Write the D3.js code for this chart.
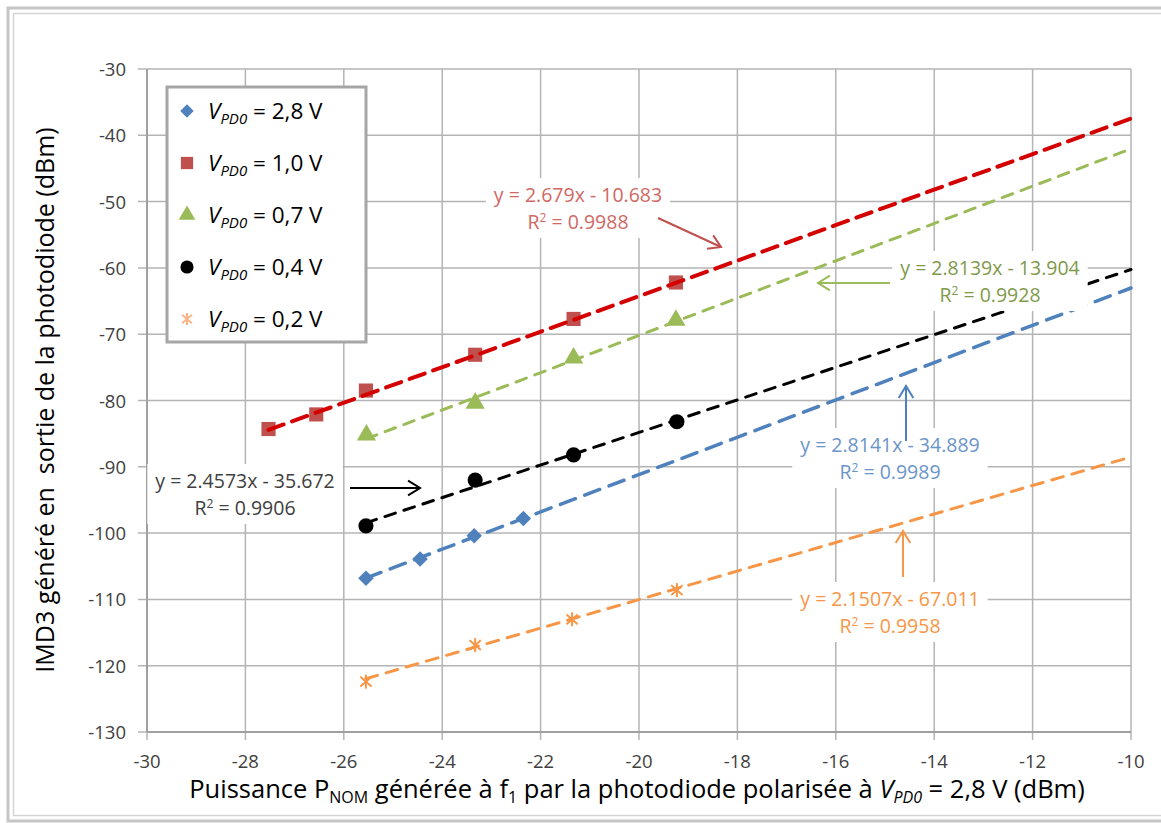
<!DOCTYPE html>
<html><head><meta charset="utf-8">
<script src="https://cdn.jsdelivr.net/npm/d3@7"></script>
<style>
body{margin:0;background:#fff;}
svg{display:block;font-family:"Open Sans","Liberation Sans",sans-serif;}
</style></head><body>
<svg id="c" width="1161" height="823"></svg>
<script>
// ---- data ----
const seriesNames = ["2,8 V","1,0 V","0,7 V","0,4 V","0,2 V"];
const xBlue  = [-25.55,-24.45,-23.35,-22.35];
const yBlue  = [-106.8,-103.9,-100.4,-97.8];
const xRed   = [-27.53,-26.56,-25.55,-23.33,-21.33,-19.25];
const yRed   = [-84.3,-82.1,-78.5,-73.1,-67.7,-62.2];
const xGreen = [-25.54,-23.33,-21.33,-19.25];
const yGreen = [-85.2,-80.4,-73.6,-67.9];
const xBlack = [-25.55,-23.33,-21.33,-19.23];
const yBlack = [-98.9,-92.0,-88.2,-83.2];
const xOrange= [-25.55,-23.33,-21.36,-19.23];
const yOrange= [-122.4,-116.9,-113.0,-108.6];
// trendlines: slope, intercept, R²
const slopes     = [2.8141, 2.679, 2.8139, 2.4573, 2.1507];
const intercepts = [-34.889, -10.683, -13.904, -35.672, -67.011];
const r2         = ["0.9989","0.9988","0.9928","0.9906","0.9958"];
const eqText     = ["y = 2.8141x - 34.889","y = 2.679x - 10.683","y = 2.8139x - 13.904","y = 2.4573x - 35.672","y = 2.1507x - 67.011"];
const xTicks = [-30,-28,-26,-24,-22,-20,-18,-16,-14,-12,-10];
const yTicks = [-130,-120,-110,-100,-90,-80,-70,-60,-50,-40,-30];

const svg = d3.select("#c");
const x = d3.scaleLinear().domain([-30,-10]).range([147,1131]);
const y = d3.scaleLinear().domain([-130,-30]).range([732,69]);

// frame
svg.append("rect").attr("x",8).attr("y",8).attr("width",1170).attr("height",813)
  .attr("fill","none").attr("stroke","#c6c6c6").attr("stroke-width",3);
svg.append("rect").attr("x",13.5).attr("y",13.5).attr("width",1160).attr("height",802)
  .attr("fill","none").attr("stroke","#d4d4d4").attr("stroke-width",1.5);

// grid
const grid = svg.append("g").attr("stroke","#b4b4b4").attr("stroke-width",1.5);
grid.selectAll(".gx").data(xTicks).join("line")
  .attr("x1",d=>x(d)).attr("x2",d=>x(d)).attr("y1",y(-30)).attr("y2",y(-130)+8);
grid.selectAll(".gy").data(yTicks).join("line")
  .attr("y1",d=>y(d)).attr("y2",d=>y(d)).attr("x1",x(-30)-9).attr("x2",x(-10));
svg.append("line").attr("x1",x(-30)).attr("x2",x(-10)).attr("y1",y(-130)).attr("y2",y(-130))
  .attr("stroke","#a0a0a0").attr("stroke-width",2);
svg.append("line").attr("x1",x(-30)).attr("x2",x(-30)).attr("y1",y(-30)).attr("y2",y(-130))
  .attr("stroke","#a0a0a0").attr("stroke-width",2);

// tick labels
svg.append("g").selectAll("text").data(xTicks).join("text")
  .attr("x",d=>x(d)).attr("y",768).attr("text-anchor","middle")
  .attr("font-size",18.5).attr("fill","#404040").text(d=>d);
svg.append("g").selectAll("text").data(yTicks).join("text")
  .attr("x",x(-30)-21).attr("y",d=>y(d)+7).attr("text-anchor","end")
  .attr("font-size",18.5).attr("fill","#404040").text(d=>d);

// markers
const colors = ["#4f81bd","#c0504d","#9bbb59","#000000","#f79646"];
const lineColors = ["#4f81bd","#d40000","#9bbb59","#000000","#f79646"];
const xs = [xBlue,xRed,xGreen,xBlack,xOrange];
const ys = [yBlue,yRed,yGreen,yBlack,yOrange];
const shapes = [d3.symbolSquare, d3.symbolSquare, d3.symbolTriangle, d3.symbolCircle, null];
const sizes = [120,200,160,180,0];

function drawMarker(g, i, cx, cy, scale){
  scale = scale||1;
  if(shapes[i]){
    g.append("path").attr("d",d3.symbol().type(shapes[i]).size(sizes[i]*scale)())
      .attr("transform",`translate(${cx},${cy})`+(i===0?" rotate(45)":""))
      .attr("fill",colors[i]);
  } else {
    const r=7*Math.sqrt(scale);
    const gg=g.append("g").attr("transform",`translate(${cx},${cy})`)
      .attr("stroke",scale<1?"#fab68a":colors[i]).attr("stroke-width",2);
    gg.append("line").attr("x1",0).attr("x2",0).attr("y1",-r).attr("y2",r);
    gg.append("line").attr("x1",-r*0.8).attr("x2",r*0.8).attr("y1",-r*0.7).attr("y2",r*0.7);
    gg.append("line").attr("x1",-r*0.8).attr("x2",r*0.8).attr("y1",r*0.7).attr("y2",-r*0.7);
  }
}
const mk = svg.append("g");
xs.forEach((arr,i)=>arr.forEach((v,j)=>drawMarker(mk,i,x(v),y(ys[i][j]))));

// trendlines
const dash = ["16,10","16,9","11,9","11,9","12,9"];
const widths = [3.5,4,3,3,3];
const tl = svg.append("g");
slopes.forEach((m,i)=>{
  const x0 = d3.min(xs[i]), x1=-10;
  tl.append("line").attr("x1",x(x0)).attr("y1",y(m*x0+intercepts[i]))
    .attr("x2",x(x1)).attr("y2",y(m*x1+intercepts[i]))
    .attr("stroke",lineColors[i]).attr("stroke-width",widths[i])
    .attr("stroke-dasharray",dash[i]).attr("stroke-linecap","round");
});

// equation labels
const labelPos = [[890,452],[578,202],[990,275],[245,488],[890,606]];
const labelColors = ["#6b94c9","#d06864","#7f9a4b","#404040","#f79646"];
const arrows = [
  [[906,441],[906,386]],
  [[658,218],[721,247]],
  [[890,283],[818,283]],
  [[350,488],[420,488]],
  [[903,577],[903,531]]
];
slopes.forEach((m,i)=>{
  const g = svg.append("g");
  const bg = g.append("rect").attr("fill","#fff");
  const t = g.append("text").attr("font-size",19.5).attr("fill",labelColors[i]).attr("text-anchor","middle");
  t.append("tspan").attr("x",labelPos[i][0]).attr("y",labelPos[i][1]).text(eqText[i]);
  const t2 = t.append("tspan").attr("x",labelPos[i][0]).attr("y",labelPos[i][1]+27);
  t2.append("tspan").text("R");
  t2.append("tspan").attr("font-size",12).attr("dy",-7).text("2");
  t2.append("tspan").attr("dy",7).text(" = "+r2[i]);
  const bb = t.node().getBBox();
  bg.attr("x",bb.x-8).attr("y",bb.y-3).attr("width",bb.width+16).attr("height",bb.height+6);
  const [p0,p1]=arrows[i];
  const ac = i===1?"#c0504d":(i===3?"#000":colors[i]);
  g.append("line").attr("x1",p0[0]).attr("y1",p0[1]).attr("x2",p1[0]).attr("y2",p1[1])
    .attr("stroke",ac).attr("stroke-width",2);
  const ang = Math.atan2(p1[1]-p0[1],p1[0]-p0[0]);
  const L=14, a=0.55;
  const h1=[p1[0]-L*Math.cos(ang-a),p1[1]-L*Math.sin(ang-a)];
  const h2=[p1[0]-L*Math.cos(ang+a),p1[1]-L*Math.sin(ang+a)];
  g.append("path").attr("d",`M${h1}L${p1}L${h2}`).attr("fill","none")
    .attr("stroke",ac).attr("stroke-width",2);
});

// legend
const lg = svg.append("g");
lg.append("rect").attr("x",167).attr("y",87).attr("width",199).attr("height",255)
  .attr("fill","#fff").attr("stroke","#a6a6a6").attr("stroke-width",3);
seriesNames.forEach((s,i)=>{
  const yy = 111 + i*52;
  drawMarker(lg,i,187,yy,0.75);
  const t = lg.append("text").attr("x",208).attr("y",yy+8).attr("font-size",22.5).attr("fill","#000");
  t.append("tspan").attr("font-style","italic").text("V");
  t.append("tspan").attr("font-style","italic").attr("font-size",15).attr("dy",5).text("PD0");
  t.append("tspan").attr("dy",-5).text(" = "+s);
});

// axis titles
const xt = svg.append("text").attr("x",637).attr("y",798).attr("text-anchor","middle")
  .attr("font-size",25.5).attr("fill","#000");
xt.append("tspan").text("Puissance P");
xt.append("tspan").attr("font-size",16).attr("dy",5).text("NOM");
xt.append("tspan").attr("dy",-5).text(" générée à f");
xt.append("tspan").attr("font-size",16).attr("dy",5).text("1");
xt.append("tspan").attr("dy",-5).text(" par la photodiode polarisée à ");
xt.append("tspan").attr("font-style","italic").text("V");
xt.append("tspan").attr("font-style","italic").attr("font-size",16).attr("dy",5).text("PD0");
xt.append("tspan").attr("dy",-5).text(" = 2,8 V (dBm)");

svg.append("text").attr("transform","translate(54,400) rotate(-90)").attr("text-anchor","middle")
  .attr("font-size",25).attr("fill","#000").attr("xml:space","preserve")
  .text("IMD3 généré en  sortie de la photodiode (dBm)");
</script>
</body></html>
